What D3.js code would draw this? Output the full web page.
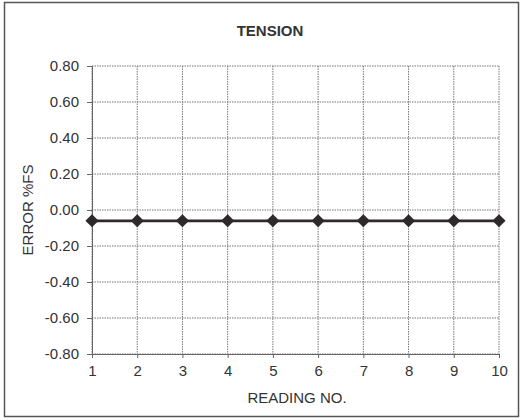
<!DOCTYPE html>
<meta charset="utf-8">
<style>
  body { margin: 0; background: #fff; }
  text { font-family: Arial, "Liberation Sans", sans-serif; fill: #333; }
  .grid line { stroke: #777; stroke-width: 1px; stroke-dasharray: 1.5,1; }
  .axis path, .axis line { stroke: #666; }
  .axis text { font-size: 15px; fill: #333; }
</style>
<svg width="523" height="420"></svg>
<script src="https://d3js.org/d3.v7.min.js"></script>
<script>
  var readings = [1, 2, 3, 4, 5, 6, 7, 8, 9, 10];
  var errorValues = [-0.06, -0.06, -0.06, -0.06, -0.06, -0.06, -0.06, -0.06, -0.06, -0.06];
  var yTicks = [0.8, 0.6, 0.4, 0.2, 0, -0.2, -0.4, -0.6, -0.8];

  var svg = d3.select("svg");
  var margin = { top: 66, left: 92, right: 24, bottom: 66 },
    width = 523 - margin.left - margin.right,
    height = 420 - margin.top - margin.bottom;

  // outer frame
  svg.append("rect").attr("x", 4.5).attr("y", 2.5).attr("width", 514).attr("height", 414)
    .attr("fill", "none").attr("stroke", "#555").attr("stroke-width", 1.5);

  var g = svg.append("g").attr("transform", "translate(" + margin.left + "," + margin.top + ")");

  var x = d3.scaleLinear().domain([1, 10]).range([0, width]);
  var y = d3.scaleLinear().domain([-0.8, 0.8]).range([height, 0]);

  // grid
  var grid = g.append("g").attr("class", "grid");
  grid.selectAll(".h").data(yTicks).enter().append("line")
    .attr("x1", 0).attr("x2", width)
    .attr("y1", function (d) { return y(d); }).attr("y2", function (d) { return y(d); });
  grid.selectAll(".v").data(readings).enter().append("line")
    .attr("y1", 0).attr("y2", height)
    .attr("x1", function (d) { return x(d); }).attr("x2", function (d) { return x(d); });

  // axes
  g.append("g").attr("class", "axis")
    .call(d3.axisLeft(y).tickValues(yTicks).tickSizeOuter(0).tickSize(5).tickPadding(8))
    .selectAll("text").text(function (d) { return d3.format(".2f")(d).replace("−", "-"); });

  g.append("g").attr("class", "axis")
    .attr("transform", "translate(0," + height + ")")
    .call(d3.axisBottom(x).tickValues(readings).tickFormat(d3.format("d")).tickSizeOuter(0).tickSize(4).tickPadding(7));

  // line + markers
  var data = readings.map(function (r, i) { return { r: r, v: errorValues[i] }; });
  g.append("path").datum(data)
    .attr("fill", "none").attr("stroke", "#2e2a2b").attr("stroke-width", 2.7)
    .attr("d", d3.line().x(function (d) { return x(d.r); }).y(function (d) { return y(d.v); }));

  g.selectAll(".pt").data(data).enter().append("path")
    .attr("transform", function (d) { return "translate(" + x(d.r) + "," + y(d.v) + ")"; })
    .attr("d", d3.symbol().type(d3.symbolDiamond2).size(110))
    .attr("fill", "#2e2a2b");

  // titles
  svg.append("text").attr("x", 270).attr("y", 36).attr("text-anchor", "middle")
    .style("font-size", "15px").style("font-weight", "bold").text("TENSION");
  svg.append("text").attr("x", 297).attr("y", 403).attr("text-anchor", "middle")
    .style("font-size", "15px").text("READING NO.");
  svg.append("text").attr("transform", "translate(33," + (margin.top + y(0)) + ") rotate(-90)")
    .attr("text-anchor", "middle").style("font-size", "15px").text("ERROR %FS");
</script>
